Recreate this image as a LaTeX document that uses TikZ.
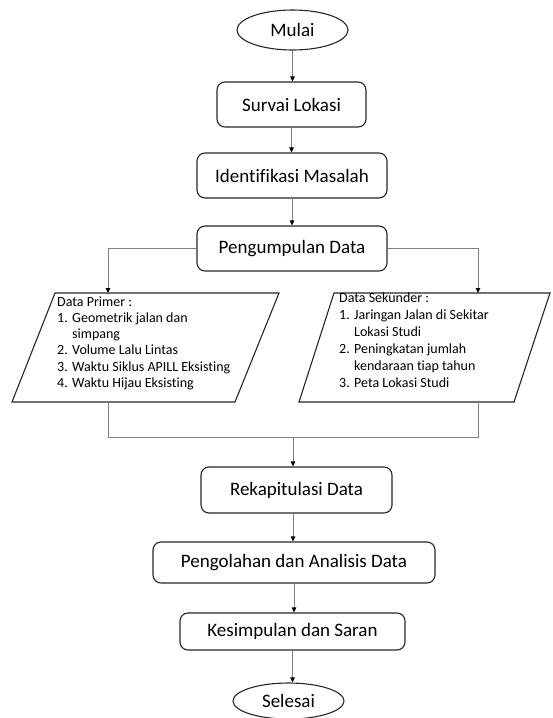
\documentclass[tikz,border=0pt]{standalone}
\usepackage{fontspec}
\setmainfont{Carlito}[Ligatures={NoCommon,NoContextual}]
\usetikzlibrary{calc,shapes.geometric,arrows.meta}

\newcommand{\numbox}[1]{\makebox[15pt][l]{#1}}

\begin{document}
\begin{tikzpicture}[x=1pt, y=-1pt, >={Triangle[length=5pt,width=4.5pt,color=black]},
  proc/.style={draw=black!85, line width=1.1pt, rounded corners=8pt,
               font=\fontsize{19}{23}\selectfont},
  term/.style={draw=black!85, line width=1.1pt, ellipse, minimum width=111, minimum height=40,
               inner sep=0pt, font=\fontsize{19}{23}\selectfont},
  conn/.style={draw=black!50, line width=0.9pt},
  datatext/.style={anchor=north west, inner sep=0pt, align=left,
               font=\fontsize{14}{#1}\selectfont}]

  \useasboundingbox (0,0) rectangle (552,718);

  % Parameters
  \def\axis{293}      % main flow line
  \def\ptop{293}      % top of data boxes
  \def\pbot{402}      % bottom of data boxes
  \def\join{437}      % level of joining line

  % Start / end
  \node[term] (mulai) at (292.5,30) {Mulai};
  \node[term, minimum height=36] (selesai) at (288.5,701) {Selesai};

  % Process boxes
  \node[proc, minimum width=149, minimum height=45] (survai)  at (291.5,104.5) {Survai Lokasi};
  \node[proc, minimum width=190, minimum height=45] (identif) at (292,175.5) {Identifikasi Masalah};
  \node[proc, minimum width=190, minimum height=45] (kumpul)  at (292,248.5) {Pengumpulan Data};
  \node[proc, minimum width=191, minimum height=46] (rekap)   at (296.5,490) {Rekapitulasi Data};
  \node[proc, minimum width=282, minimum height=41] (olah)    at (294,562.5) {Pengolahan dan Analisis Data};
  \node[proc, minimum width=225, minimum height=37] (simpul)  at (292.5,631.5) {Kesimpulan dan Saran};

  % Data boxes (parallelograms)
  \draw[draw=black!85, line width=1.1pt] (12,\pbot) -- (55,\ptop) -- (279,\ptop) -- (235,\pbot) -- cycle;
  \draw[draw=black!85, line width=1.1pt] (299,\pbot) -- (334,\ptop) -- (550,\ptop) -- (514,\pbot) -- cycle;

  \node[datatext=16.2] (primer) at (57,296.5) {Data Primer :\\
    \numbox{1.}Geometrik jalan dan\\
    \numbox{}simpang\\
    \numbox{2.}Volume Lalu Lintas\\
    \numbox{3.}Waktu Siklus APILL Eksisting\\
    \numbox{4.}Waktu Hijau Eksisting};

  \node[datatext=17] (sekunder) at (339,292.5) {Data Sekunder :\\
    \numbox{1.}Jaringan Jalan di Sekitar\\
    \numbox{}Lokasi Studi\\
    \numbox{2.}Peningkatan jumlah\\
    \numbox{}kendaraan tiap tahun\\
    \numbox{3.}Peta Lokasi Studi};

  \coordinate (primtop) at (108,\ptop);
  \coordinate (sektop)  at (478,\ptop);
  \coordinate (primbot) at (108,\pbot);
  \coordinate (sekbot)  at (478,\pbot);
  \coordinate (joinpt)  at (\axis,\join);

  % Main flow
  \draw[conn,->] (mulai.south)   -- (mulai.south |- survai.north);
  \draw[conn,->] (survai.south)  -- (survai.south |- identif.north);
  \draw[conn,->] (identif.south) -- (identif.south |- kumpul.north);

  % Split into the two data boxes
  \draw[conn,->] (kumpul.west) -| (primtop);
  \draw[conn,->] (kumpul.east) -| (sektop);

  % Join below the data boxes
  \draw[conn] (primbot) -- (primbot |- joinpt) -- (sekbot |- joinpt) -- (sekbot);
  \draw[conn,->] (joinpt) -- (joinpt |- rekap.north);

  \draw[conn,->] (joinpt |- rekap.south) -- (joinpt |- olah.north);
  \draw[conn,->] (olah.south)   -- (olah.south |- simpul.north);
  \draw[conn,->] (simpul.south) -- (simpul.south |- selesai.north);

\end{tikzpicture}
\end{document}
